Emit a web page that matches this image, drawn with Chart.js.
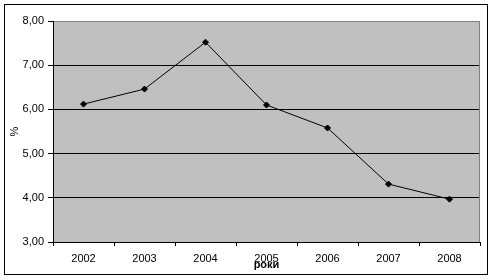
<!DOCTYPE html>
<html>
<head>
<meta charset="utf-8">
<script src="https://cdn.jsdelivr.net/npm/chart.js@4/dist/chart.umd.min.js"></script>
<style>
  html, body { margin: 0; padding: 0; background: #fff; }
  canvas { display: block; }
</style>
</head>
<body>
<canvas id="grafik" width="493" height="280"></canvas>
<script>
const roky = ['2002', '2003', '2004', '2005', '2006', '2007', '2008'];
const vidsotky = [6.12, 6.46, 7.52, 6.10, 5.58, 4.31, 3.97];
const osY = { min: 3, max: 8, krok: 1 };

const shryft = { family: "'Liberation Sans', Arial, sans-serif", size: 11 };

// сірий фон області побудови + рамка навколо всього
const tloPlugin = {
  id: 'tlo',
  beforeDraw(chart) {
    const { ctx, chartArea: a } = chart;
    ctx.save();
    ctx.fillStyle = '#c0c0c0';
    ctx.fillRect(a.left, a.top, a.right - a.left, a.bottom - a.top);
    ctx.restore();
  },
  afterDraw(chart) {
    const { ctx, chartArea: a } = chart;
    ctx.save();
    ctx.lineWidth = 1;
    ctx.strokeStyle = '#808080';
    ctx.beginPath();
    ctx.moveTo(a.right - 0.5, a.top);
    ctx.lineTo(a.right - 0.5, a.bottom);
    ctx.stroke();
    ctx.strokeStyle = '#000';
    ctx.strokeRect(4.5, 4.5, 483, 270);
    ctx.restore();
  }
};

new Chart(document.getElementById('grafik'), {
  type: 'line',
  data: {
    labels: roky,
    datasets: [{
      data: vidsotky,
      borderColor: '#000',
      borderWidth: 1,
      backgroundColor: '#000',
      pointStyle: 'rectRot',
      pointRadius: 3,
      pointBorderWidth: 1,
      tension: 0
    }]
  },
  options: {
    responsive: false,
    animation: false,
    layout: { padding: { left: 6, right: 13, top: 21, bottom: 8 } },
    plugins: { legend: { display: false }, tooltip: { enabled: false } },
    scales: {
      x: {
        offset: true,
        afterFit(s) { s.height = 30; },
        grid: { offset: true, drawOnChartArea: false, drawTicks: true, tickLength: 4, color: '#000' },
        border: { color: '#000' },
        ticks: { color: '#000', font: shryft, padding: 6, maxRotation: 0 },
        title: { display: true, text: 'роки', color: '#000', padding: 0,
                 font: { family: shryft.family, size: 11, weight: 'bold' } }
      },
      y: {
        min: osY.min, max: osY.max,
        afterFit(s) { s.width = 47; },
        grid: {
          color: c => (c.tick && c.tick.value === osY.max) ? '#808080' : '#000',
          tickColor: '#000',
          tickLength: 5
        },
        border: { color: '#000' },
        ticks: {
          stepSize: osY.krok, color: '#000', font: shryft, padding: 4,
          callback: v => v.toFixed(2).replace('.', ',')
        },
        title: { display: true, text: '%', color: '#000', font: shryft, padding: { top: 2, bottom: 0 } }
      }
    }
  },
  plugins: [tloPlugin]
});
</script>
</body>
</html>
